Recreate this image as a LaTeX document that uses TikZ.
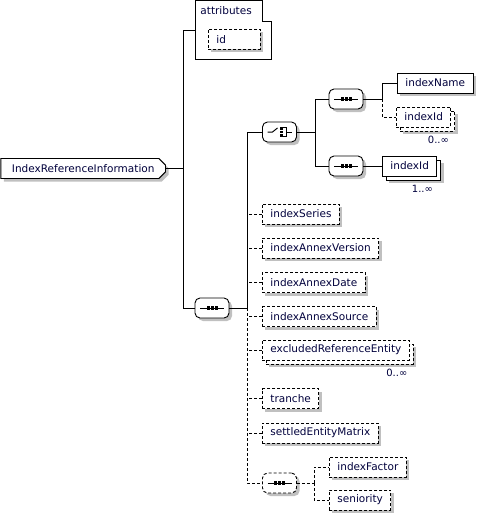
\documentclass[tikz,border=0pt]{standalone}
\usepackage{fontspec}
\setmainfont{DejaVu Sans}
\usetikzlibrary{positioning, shapes.misc, shadows, calc}
\definecolor{xsdtext}{RGB}{0,0,60}
\definecolor{xsdshadow}{RGB}{192,192,192}

\begin{document}
\begin{tikzpicture}[x=1pt, y=-1pt,
        box/.style={draw, rectangle, fill=white, minimum height=20pt, inner xsep=8pt, inner ysep=0pt, text=xsdtext, font=\fontsize{10.5}{12}\selectfont, line width=0.9pt},
        elem/.style={box, drop shadow={shadow xshift=3pt, shadow yshift=-3pt, fill=xsdshadow, opacity=1}},
        opt/.style={elem, dash pattern=on 3pt off 2pt},
        many/.style={box, drop shadow={shadow xshift=7pt, shadow yshift=-7pt, fill=xsdshadow, opacity=1}, copy shadow={shadow xshift=4pt, shadow yshift=-4pt, draw, fill=white, line width=0.9pt, #1}},
        many/.default={solid},
        comp/.style={draw, rectangle, rounded corners=5pt, fill=white, minimum width=34pt, minimum height=20pt, inner sep=0pt, line width=0.9pt, drop shadow={shadow xshift=3pt, shadow yshift=-3pt, fill=xsdshadow, opacity=1}},
        seqicon/.style={path picture={
            \draw[line width=1pt, solid, black, sharp corners] ([xshift=5pt]path picture bounding box.west) -- ([xshift=-5pt]path picture bounding box.east);
            \foreach \dx in {-5.5,-1.5,2.5} \fill[black, sharp corners] ([xshift=\dx pt, yshift=-1.6pt]path picture bounding box.center) rectangle ++(3.2pt,3.2pt);}},
        choiceicon/.style={path picture={
            \draw[line width=1pt, black, sharp corners] ([xshift=5pt]path picture bounding box.west) -- ++(5pt,0pt) -- ++(5pt,4pt);
            \foreach \dy in {3.5,0,-3.5} \fill[black, sharp corners] ([xshift=0.5pt, yshift=\dy pt-1.4pt]path picture bounding box.center) rectangle ++(2.8pt,2.8pt);
            \draw[line width=1pt, black, sharp corners] ([xshift=3.5pt, yshift=4.5pt]path picture bounding box.center) -| ++(3pt,-9pt) -- ++(-3pt,0pt);
            \draw[line width=1pt, black, sharp corners] ([xshift=6.5pt]path picture bounding box.center) -- ([xshift=-5pt]path picture bounding box.east);}},
        mult/.style={anchor=north east, inner sep=0pt, text=xsdtext, font=\fontsize{10}{12}\selectfont},
        line width=0.9pt]

        \useasboundingbox (0,0) rectangle (479,517);

        % Elemento principal e atributos
        \node (main) [elem, chamfered rectangle, chamfered rectangle xsep=3pt, chamfered rectangle corners={north east, south east}, anchor=west, minimum height=20pt] at (0.5,168.5) {IndexReferenceInformation};
        \node (attr) [anchor=north west, minimum width=76pt, minimum height=58pt, inner sep=0pt] at (195,0.5) {};
        \draw (attr.north west) -- ($(attr.north east)+(-9,0)$) -- ($(attr.north east)+(-9,21)$) -- ($(attr.north east)+(0,21)$) -- (attr.south east) -- (attr.south west) -- cycle;
        \node (attrtitle) [anchor=west, inner sep=0pt, text=xsdtext, font=\fontsize{10.5}{12}\selectfont] at (200,11) {attributes};
        \node (idattr) [opt, anchor=north west, text width=36pt] at (208,29) {id};

        % Compositores
        \node (seqA) [comp, seqicon] at (212,308) {};
        \node (choice) [comp, choiceicon] at (279.5,132) {};
        \node (seq1) [comp, seqicon] at (346,99) {};
        \node (seq2) [comp, seqicon] at (346,166) {};
        \node (seq3) [comp, seqicon, dash pattern=on 3pt off 2pt] at (279.5,483) {};

        % Elementos filhos
        \node (indexName) [elem, anchor=west] at (397,83) {indexName};
        \node (indexIdA) [many={dash pattern=on 3pt off 2pt}, dash pattern=on 3pt off 2pt, anchor=west] at (396,117) {indexId};
        \node (indexIdB) [many, anchor=west] at (382,166) {indexId};
        \node (indexSeries) [opt, anchor=west] at (262,214) {indexSeries};
        \node (indexAnnexVersion) [opt, anchor=west] at (262,248) {indexAnnexVersion};
        \node (indexAnnexDate) [opt, anchor=west] at (262,282.5) {indexAnnexDate};
        \node (indexAnnexSource) [opt, anchor=west] at (262,316.5) {indexAnnexSource};
        \node (excluded) [many={dash pattern=on 3pt off 2pt}, dash pattern=on 3pt off 2pt, anchor=west] at (262,350) {excludedReferenceEntity};
        \node (tranche) [opt, anchor=west] at (262,398.5) {tranche};
        \node (settled) [opt, anchor=west] at (262,433) {settledEntityMatrix};
        \node (indexFactor) [opt, anchor=west] at (329,467) {indexFactor};
        \node (seniority) [opt, anchor=west] at (329,500) {seniority};

        % Multiplicidades
        \node (multA) [mult] at ($(indexIdA.south east)+(-2,8)$) {0..∞};
        \node (multB) [mult] at ($(indexIdB.south east)+(-4,8)$) {1..∞};
        \node (multC) [mult] at ($(excluded.south east)+(-2,8)$) {0..∞};

        % Conexões
        \draw (main.east) -- ++(17,0) coordinate (j1);
        \draw (j1) |- (attr.west);
        \draw (j1) |- (seqA.west);
        \draw (seqA.east) -- ++(18,0) coordinate (j2);
        \draw (j2) |- (choice.west);
        \draw (choice.east) -- ++(18,0) coordinate (j3);
        \draw (j3) |- (seq1.west);
        \draw (j3) |- (seq2.west);
        \draw (seq1.east) -- ++(19,0) coordinate (j4);
        \draw (j4) |- (indexName.west);
        \draw[dash pattern=on 3pt off 2pt] (j4) |- (indexIdA.west);
        \draw (seq2.east) -- (indexIdB.west);
        \foreach \n in {indexSeries, indexAnnexVersion, indexAnnexDate, indexAnnexSource, excluded, tranche, settled}
            \draw[dash pattern=on 3pt off 2pt] (\n.west) -- (\n.west -| j2);
        \draw[dash pattern=on 3pt off 2pt] (j2) |- (seq3.west);
        \draw[dash pattern=on 3pt off 2pt] (seq3.east) -- ++(17,0) coordinate (j5);
        \draw[dash pattern=on 3pt off 2pt] (j5) |- (indexFactor.west);
        \draw[dash pattern=on 3pt off 2pt] (j5) |- (seniority.west);
\end{tikzpicture}
\end{document}
